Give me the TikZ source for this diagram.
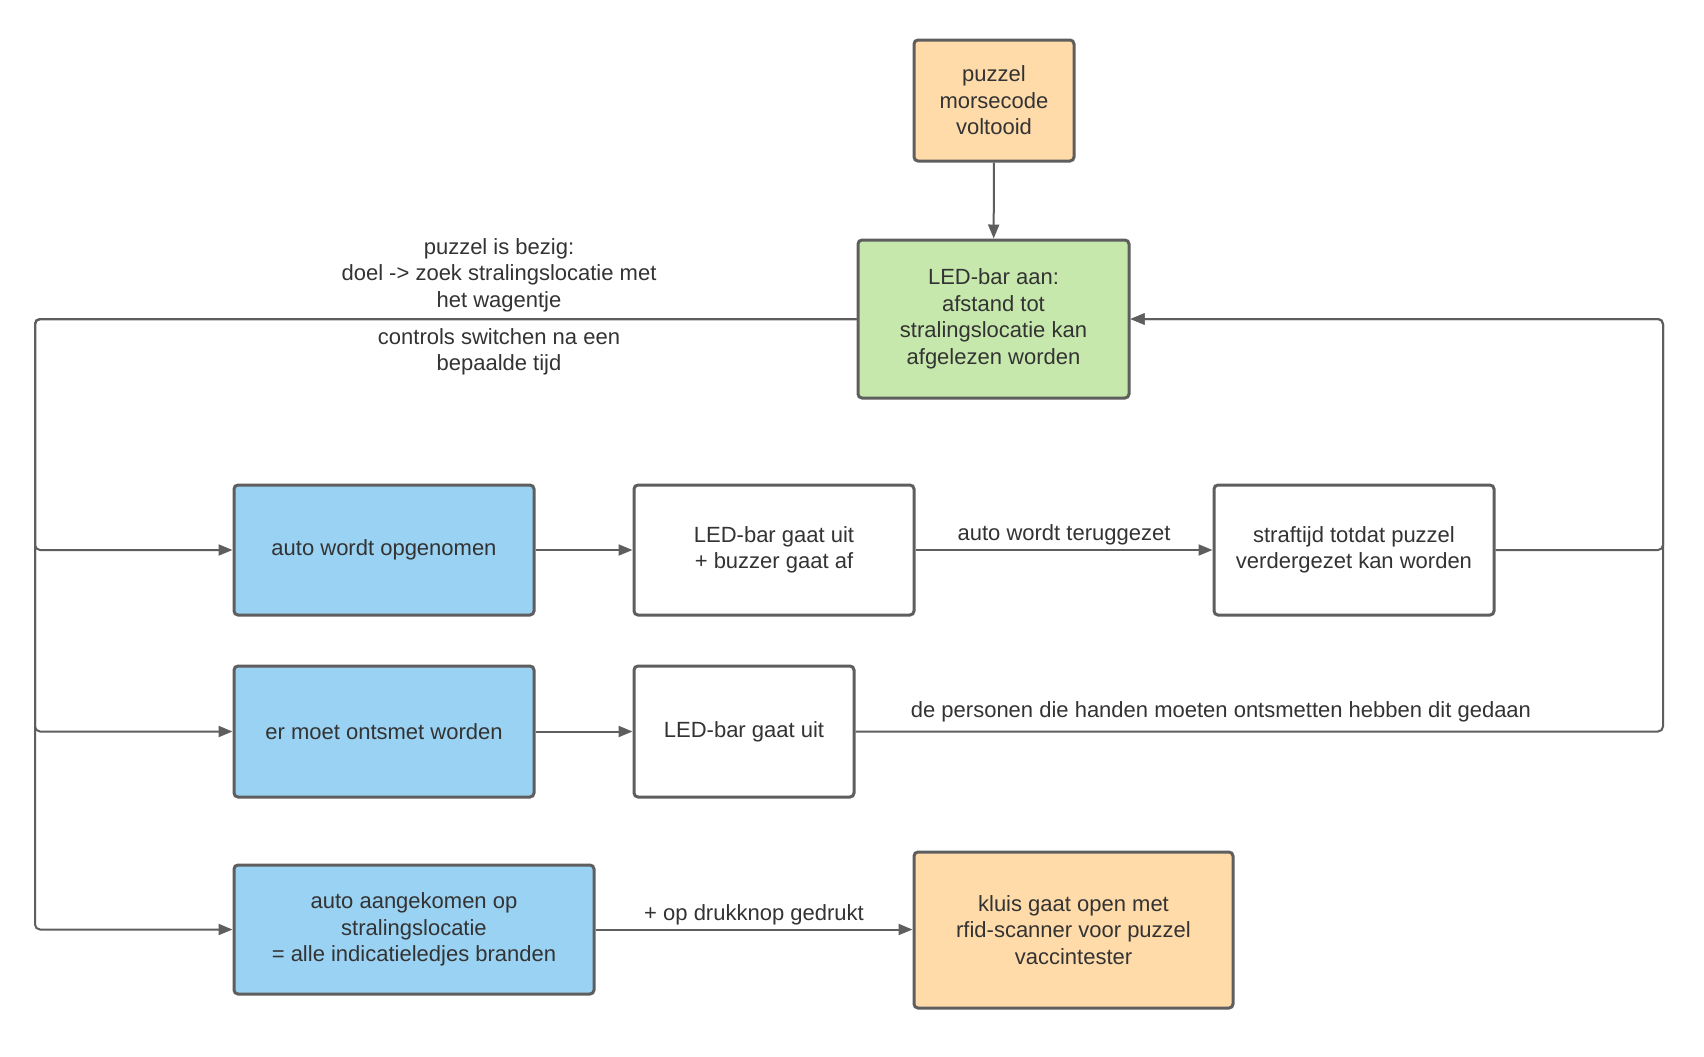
\documentclass[tikz,border=0pt]{standalone}
\usepackage{fontspec}
\setmainfont{Liberation Sans}
\usetikzlibrary{arrows.meta}
\definecolor{edgec}{HTML}{5E5E5E}
\definecolor{txtc}{HTML}{333333}
\definecolor{orangefill}{HTML}{FFDBA9}
\definecolor{greenfill}{HTML}{C7E8AC}
\definecolor{bluefill}{HTML}{99D2F2}
\begin{document}
\begin{tikzpicture}[x=0.5pt,y=-0.5pt,
  box/.style={draw=edgec, line width=1.5pt, rounded corners=2pt, align=center, text=txtc, font=\fontsize{11}{13.3}\selectfont, inner sep=0pt},
  conn/.style={draw=edgec, line width=1pt, rounded corners=2.5pt, -{Triangle[length=7pt,width=5.5pt]}},
  lbl/.style={text=txtc, align=center, font=\fontsize{11}{13.3}\selectfont, inner sep=0pt}]
\useasboundingbox[fill=white] (0,0) rectangle (1704,1056);
\coordinate (L) at (35,0);
\coordinate (R) at (1663,0);
\node[box, fill=orangefill, minimum width=80pt, minimum height=60.5pt] (start) at (994,100.5) {puzzel\\morsecode\\voltooid};
\node[box, fill=greenfill, minimum width=135.5pt, minimum height=79pt] (green) at (993.5,319) {LED-bar aan:\\afstand tot\\stralingslocatie kan\\afgelezen worden};
\node[box, fill=bluefill, minimum width=150pt, minimum height=65pt] (blue1) at (384,550) {auto wordt opgenomen};
\node[box, fill=white, minimum width=140pt, minimum height=65pt] (white1) at (774,550) {LED-bar gaat uit\\+ buzzer gaat af};
\node[box, fill=white, minimum width=140pt, minimum height=65pt] (white2) at (1354,550) {straftijd totdat puzzel\\verdergezet kan worden};
\node[box, fill=bluefill, minimum width=150pt, minimum height=65.5pt] (blue2) at (384,731.5) {er moet ontsmet worden};
\node[box, fill=white, minimum width=110pt, minimum height=65.5pt] (white3) at (744,731.5) {LED-bar gaat uit};
\node[box, fill=bluefill, minimum width=180pt, minimum height=64.5pt] (blue3) at (414,929.5) {auto aangekomen op\\stralingslocatie\\= alle indicatieledjes branden};
\node[box, fill=orangefill, minimum width=159.5pt, minimum height=78pt] (orange2) at (1073.5,930) {kluis gaat open met\\rfid-scanner voor puzzel\\vaccintester};

\draw[conn] (start) -- (green);
\draw[conn] (green.west) -- (green.west -| L) |- (blue1.west);
\draw[conn] (green.west) -- (green.west -| L) |- (blue2.west);
\draw[conn] (green.west) -- (green.west -| L) |- (blue3.west);
\draw[conn] (blue1) -- (white1);
\draw[conn] (white1) -- (white2);
\draw[conn] (blue2) -- (white3);
\draw[conn] (blue3.east) -- (blue3.east -| orange2.west);
\draw[conn] (white2.east) -- (white2.east -| R) |- (green.east);
\draw[conn] (white3.east) -- (white3.east -| R) |- (green.east);

\node[lbl] (lblbezig) at (499,275) {puzzel is bezig:\\doel -> zoek stralingslocatie met\\het wagentje};
\node[lbl] (lblcontrols) at (499,352) {controls switchen na een\\bepaalde tijd};
\node[lbl] (lblterug) at (1064,535) {auto wordt teruggezet};
\node[lbl] (lblpers) at (1221,711.5) {de personen die handen moeten ontsmetten hebben dit gedaan};
\node[lbl] (lbldruk) at (754,915) {+ op drukknop gedrukt};
\end{tikzpicture}
\end{document}
